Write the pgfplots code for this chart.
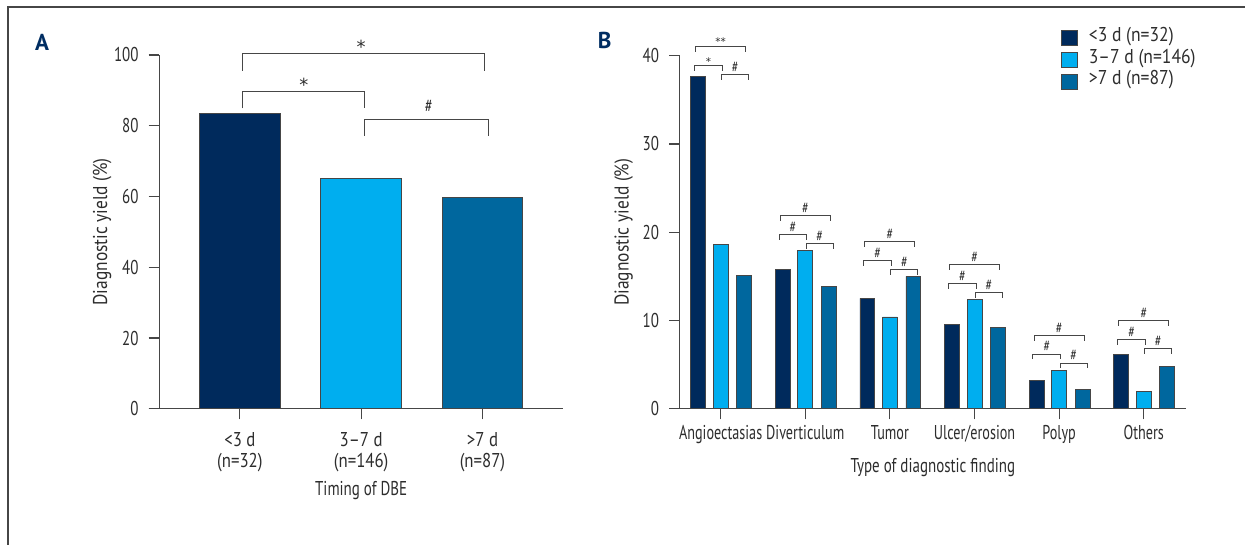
\documentclass[border=0pt]{standalone}
\usepackage{fontspec}
\setmainfont{PT Sans}[FakeStretch=0.75]
\newfontfamily\panelfont{PT Sans}
\newfontfamily\wideA{PT Sans}[FakeStretch=0.84]
\newfontfamily\legf{PT Sans}[FakeStretch=0.88]
\newfontfamily\ylabf{PT Sans}[FakeStretch=0.87]
\newfontfamily\narB{PT Sans}[FakeStretch=0.71]
\newfontfamily\starf{DejaVu Sans}
\usepackage{pgfplots}
\pgfplotsset{compat=1.18}
\definecolor{c1}{RGB}{0,42,92}
\definecolor{c2}{RGB}{0,174,239}
\definecolor{c3}{RGB}{0,103,158}
\definecolor{txt}{RGB}{45,45,45}
\definecolor{axc}{RGB}{70,70,70}
\definecolor{lab}{RGB}{0,45,98}
\tikzset{annot/.style={axc, line width=1pt}}
\pgfplotsset{
  common/.style={
    scale only axis, anchor=south west, clip=false,
    axis x line*=bottom, axis y line*=left,
    axis line style={axc, line width=1.1pt},
    tick style={axc, line width=1.1pt},
    tick align=outside, major tick length=10.5pt,
    ymin=0,
    tick label style={txt, font=\fontsize{20}{22}\selectfont},
    label style={txt, font=\fontsize{20}{22}\selectfont},
    /pgf/number format/assume math mode=true,
    yticklabel style={inner sep=0pt, xshift=-10pt},
    xticklabel style={inner sep=0pt, align=center, yshift=-6pt},
  },
  sqleg/.style={/pgfplots/legend image code/.code={\draw[##1,line width=0.9pt] (0pt,-7.5pt) rectangle (15.6pt,7.5pt);}},
  barA/.style={ybar, bar width=0.665, bar shift=0, draw=axc, line width=0.9pt},
  barB/.style={ybar, bar width=0.175, draw=axc, line width=0.9pt, sqleg},
}
% bracket lines of one group: group, top, left, right
\newcommand{\brL}[4]{%
  \draw[annot] (axis cs:#1-0.295,#2-0.57) -- (axis cs:#1-0.295,#2) -- (axis cs:#1+0.295,#2) -- (axis cs:#1+0.295,#2-0.57);
  \draw[annot] (axis cs:#1-0.31,#3-0.57) -- (axis cs:#1-0.31,#3) -- (axis cs:#1+0.02,#3) -- (axis cs:#1+0.02,#3-0.57);
  \draw[annot] (axis cs:#1+0.01,#4-0.57) -- (axis cs:#1+0.01,#4) -- (axis cs:#1+0.33,#4) -- (axis cs:#1+0.33,#4-0.57);
}
% group with three # labels
\newcommand{\brB}[4]{%
  \brL{#1}{#2}{#3}{#4}
  \node[txt, font=\fontsize{16}{16}\selectfont, inner sep=0pt] at (axis cs:#1,#2+0.85) {\#};
  \node[txt, font=\fontsize{16}{16}\selectfont, inner sep=0pt] at (axis cs:#1-0.145,#3+0.85) {\#};
  \node[txt, font=\fontsize{16}{16}\selectfont, inner sep=0pt] at (axis cs:#1+0.17,#4+0.85) {\#};
}
\begin{document}
\begin{tikzpicture}[x=1pt,y=1pt]
\path (0,0) rectangle (1246,545);
\draw[axc, line width=1.2pt] (8,0) -- (8,538) -- (1246,538);
\node[font=\panelfont\bfseries\fontsize{23}{24}\selectfont, text=lab] at (42,503) {A};
\node[font=\panelfont\bfseries\fontsize{23}{24}\selectfont, text=lab] at (605,504.5) {B};

% ---------------- Panel A ----------------
\begin{axis}[common,
  at={(159.3pt,136pt)}, width=404.1pt, height=354pt,
  xmin=-0.665, xmax=2.665, ymax=100,
  ytick={0,20,40,60,80,100},
  xtick={0,1,2},
  xticklabels={{<3 d\\(n=32)},{3–7 d\\(n=146)},{>7 d\\(n=87)}},
  xticklabel style={yshift=-7pt, font=\wideA\fontsize{20}{21}\selectfont},
  x axis line style={shorten <=-10.5pt},
  ylabel={Diagnostic yield (\%)},
  xlabel={Timing of DBE},
  ylabel style={at={(axis description cs:-0.141,0.5)}, anchor=center, rotate=0, font=\ylabf\fontsize{20}{22}\selectfont},
  xlabel style={at={(axis description cs:0.5,-0.2316)}, anchor=center},
]
\addplot[barA, fill=c1] coordinates {(0,83.5)};
\addplot[barA, fill=c2] coordinates {(1,65.0)};
\addplot[barA, fill=c3] coordinates {(2,59.8)};
\draw[annot] (axis cs:0.022,95.5) -- (axis cs:0.022,100.3) -- (axis cs:2.013,100.3) -- (axis cs:2.013,95.5);
\draw[annot] (axis cs:0.022,84.9) -- (axis cs:0.022,89.6) -- (axis cs:1.027,89.6) -- (axis cs:1.027,84.9);
\draw[annot] (axis cs:1.027,77.1) -- (axis cs:1.027,81.9) -- (axis cs:2.05,81.9) -- (axis cs:2.05,77.1);
\node[txt, font=\starf\fontsize{18}{18}\selectfont, inner sep=0pt, anchor=base] at (axis cs:1.0,100.5) {*};
\node[txt, font=\starf\fontsize{18}{18}\selectfont, inner sep=0pt, anchor=base] at (axis cs:0.528,89.6) {*};
\node[txt, font=\fontsize{19}{21}\selectfont, inner sep=0pt] at (axis cs:1.558,85.6) {\#};
\end{axis}

% ---------------- Panel B ----------------
\begin{axis}[common,
  at={(680pt,136pt)}, width=506.7pt, height=353.3pt,
  xmin=-0.484, xmax=5.5, ymax=40,
  ytick={0,10,20,30,40},
  xtick={0,1,2,3,4,5},
  xticklabels={Angioectasias,Diverticulum,Tumor,Ulcer/erosion,Polyp,Others},
  xticklabel style={font=\narB\fontsize{20}{22}\selectfont},
  x axis line style={shorten <=-10.5pt},
  ylabel={Diagnostic yield (\%)},
  xlabel={Type of diagnostic finding},
  ylabel style={at={(axis description cs:-0.1105,0.5)}, anchor=center, rotate=0, font=\ylabf\fontsize{20}{22}\selectfont},
  xlabel style={at={(axis description cs:0.5,-0.167)}, anchor=center},
  legend cell align=left,
  legend style={at={(axis description cs:0.7533,1.0802)}, anchor=north west,
    draw=none, fill=none, inner sep=0pt, row sep=0pt, column sep=11pt,
    nodes={inner sep=0pt, text height=14pt, text depth=7.7pt, txt, font=\legf\fontsize{20}{22}\selectfont}},
]
\addplot[barB, bar shift=-0.266, fill=c1] coordinates {(0,37.6) (1,15.8) (2,12.5) (3,9.5) (4,3.2) (5,6.2)};
\addlegendentry{<3 d (n=32)}
\addplot[barB, bar shift=0, fill=c2] coordinates {(0,18.6) (1,17.9) (2,10.4) (3,12.4) (4,4.3) (5,2.0)};
\addlegendentry{3–7 d (n=146)}
\addplot[barB, bar shift=0.277, fill=c3] coordinates {(0,15.1) (1,13.9) (2,15.0) (3,9.2) (4,2.2) (5,4.8)};
\addlegendentry{>7 d (n=87)}
\brL{0}{41.03}{38.88}{37.86}
\node[txt, font=\starf\fontsize{10.5}{11}\selectfont, inner sep=0pt, anchor=base] at (axis cs:0,41.2) {**};
\node[txt, font=\starf\fontsize{10.5}{11}\selectfont, inner sep=0pt, anchor=base] at (axis cs:-0.145,38.9) {*};
\node[txt, font=\fontsize{16}{16}\selectfont, inner sep=0pt] at (axis cs:0.17,38.71) {\#};
\brB{1}{21.86}{19.74}{18.72}
\brB{2}{18.95}{16.8}{15.78}
\brB{3}{16.3}{14.16}{13.17}
\brB{4}{8.27}{6.19}{5.17}
\brB{5}{10.0}{7.85}{6.83}
\end{axis}
\end{tikzpicture}
\end{document}
